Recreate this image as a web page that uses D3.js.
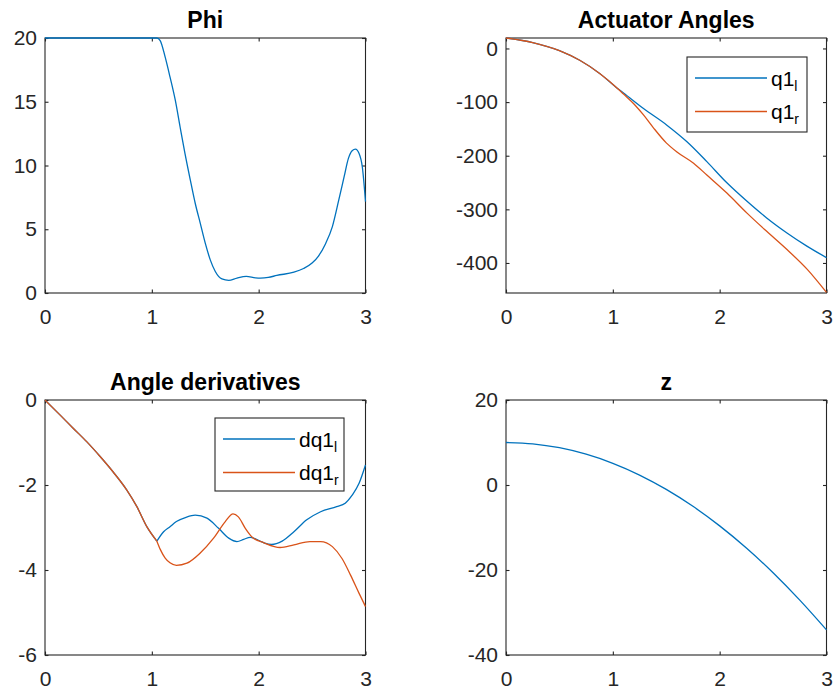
<!DOCTYPE html>
<html>
<head>
<meta charset="utf-8">
<script src="https://cdn.jsdelivr.net/npm/d3@7"></script>
<style>
  html, body { margin: 0; padding: 0; background: #ffffff; }
  svg { display: block; }
  text { font-family: "Liberation Sans", Arial, Helvetica, sans-serif; }
</style>
</head>
<body>
<svg id="fig" width="833" height="691"></svg>
<script>
// ---------------- DATA ----------------
const xTicks = [0, 1, 2, 3];

// Phi
const tPhi = [0, 1.047, 1.078, 1.125, 1.17, 1.22, 1.265, 1.31, 1.36, 1.406, 1.453, 1.5, 1.547, 1.594, 1.656, 1.72, 1.797, 1.884, 1.97, 2.016, 2.09, 2.17, 2.33, 2.42, 2.5, 2.56, 2.625, 2.69, 2.75, 2.8, 2.84, 2.875, 2.906, 2.94, 2.97, 3.0];
const phi  = [20, 20, 19.8, 18.5, 16.95, 15.1, 13.0, 10.95, 8.87, 7.04, 5.48, 3.91, 2.6, 1.69, 1.1, 0.99, 1.17, 1.3, 1.19, 1.17, 1.22, 1.38, 1.63, 1.92, 2.35, 2.9, 3.85, 5.21, 7.3, 9.12, 10.56, 11.16, 11.29, 10.95, 9.9, 7.17];
const phiTicks = [0, 5, 10, 15, 20];

// Actuator angles
const tQ1l = [0, 0.25, 0.5, 0.69, 0.88, 1.047, 1.1, 1.287, 1.506, 1.694, 1.88, 2.07, 2.256, 2.44, 2.63, 2.82, 3.0];
const q1l  = [19.5, 11, -4, -22, -47, -75, -83, -112, -143, -174, -211, -251, -285, -316, -344, -369, -390];
const tQ1r = [0, 0.25, 0.5, 0.69, 0.88, 1.047, 1.1, 1.2, 1.287, 1.38, 1.5, 1.6, 1.756, 1.88, 2.07, 2.256, 2.44, 2.63, 2.82, 3.0];
const q1r  = [19.5, 11, -4, -22, -47, -75, -85, -104, -124, -148, -176, -193, -214, -236, -270, -307, -341, -375, -412, -455];
const qTicks = [-400, -300, -200, -100, 0];

// Angle derivatives (both series share the first branch up to the kink)
const kinkT = 1.047;
const tDq1l = [0, 0.14, 0.266, 0.39, 0.516, 0.64, 0.766, 0.86, 0.953, 1.047, 1.11, 1.17, 1.23, 1.32, 1.406, 1.516, 1.625, 1.72, 1.797, 1.86, 1.92, 1.98, 2.05, 2.12, 2.22, 2.33, 2.45, 2.58, 2.73, 2.81, 2.875, 2.94, 3.0];
const dq1l  = [0, -0.35, -0.67, -0.98, -1.33, -1.7, -2.12, -2.51, -2.98, -3.32, -3.1, -2.98, -2.86, -2.76, -2.71, -2.78, -3.02, -3.25, -3.33, -3.28, -3.23, -3.28, -3.36, -3.4, -3.32, -3.1, -2.82, -2.63, -2.51, -2.43, -2.24, -1.96, -1.53];
const tDq1r = [0, 0.14, 0.266, 0.39, 0.516, 0.64, 0.766, 0.86, 0.953, 1.047, 1.08, 1.125, 1.17, 1.23, 1.328, 1.453, 1.578, 1.6875, 1.76, 1.81, 1.875, 1.94, 2.05, 2.2, 2.33, 2.48, 2.58, 2.69, 2.78, 2.86, 2.94, 3.0];
const dq1r  = [0, -0.35, -0.67, -0.98, -1.33, -1.7, -2.12, -2.51, -2.98, -3.32, -3.52, -3.72, -3.83, -3.89, -3.84, -3.6, -3.25, -2.86, -2.68, -2.75, -3.02, -3.23, -3.36, -3.47, -3.41, -3.33, -3.33, -3.45, -3.73, -4.12, -4.55, -4.86];
const dqTicks = [-6, -4, -2, 0];

// z
const tZ = [0, 0.25, 0.5, 0.75, 1.0, 1.25, 1.5, 1.75, 2.0, 2.25, 2.5, 2.75, 3.0];
const zVals = [10, 9.69, 8.77, 7.24, 5.1, 2.34, -1.04, -5.02, -9.62, -14.83, -20.66, -27.1, -34.1];
const zTicks = [-40, -20, 0, 20];

// ---------------- STYLE ----------------
const BLUE = "#0072BD", ORANGE = "#D95319", AX = "#262626";
const FONT = 21, TITLE_FONT = 23;
const FAMILY = '"Liberation Sans", Arial, Helvetica, sans-serif';

const svg = d3.select("#fig");

function panel(opt) {
  const g = svg.append("g");
  const x = d3.scaleLinear().domain([0, 3]).range([opt.x0, opt.x1]);
  const y = d3.scaleLinear().domain(opt.yDomain).range([opt.y1, opt.y0]);
  const tl = 3.5;
  const fmt = d => String(d);

  g.append("rect").attr("x", opt.x0).attr("y", opt.y0)
    .attr("width", opt.x1 - opt.x0).attr("height", opt.y1 - opt.y0)
    .attr("fill", "none").attr("stroke", AX).attr("stroke-width", 1.1);

  const bx = g.append("g").attr("transform", `translate(0,${opt.y1})`)
    .call(d3.axisBottom(x).tickValues(xTicks).tickSizeInner(-tl).tickSizeOuter(0).tickPadding(16).tickFormat(fmt));
  const tx = g.append("g").attr("transform", `translate(0,${opt.y0})`)
    .call(d3.axisTop(x).tickValues(xTicks).tickSizeInner(-tl).tickSizeOuter(0).tickFormat(""));
  const ly = g.append("g").attr("transform", `translate(${opt.x0},0)`)
    .call(d3.axisLeft(y).tickValues(opt.yTicks).tickSizeInner(-tl).tickSizeOuter(0).tickPadding(8).tickFormat(fmt));
  const ry = g.append("g").attr("transform", `translate(${opt.x1},0)`)
    .call(d3.axisRight(y).tickValues(opt.yTicks).tickSizeInner(-tl).tickSizeOuter(0).tickFormat(""));

  [bx, tx, ly, ry].forEach(a => {
    a.attr("font-size", null).attr("font-family", null);
    a.select(".domain").remove();
    a.selectAll("line").attr("stroke", AX).attr("stroke-width", 1.1);
    a.selectAll("text").attr("fill", AX).style("font-size", FONT + "px").style("font-family", FAMILY);
  });

  g.append("text").attr("x", (opt.x0 + opt.x1) / 2).attr("y", opt.y0 - 10)
    .attr("text-anchor", "middle").attr("font-weight", "bold")
    .style("font-size", TITLE_FONT + "px").style("font-family", FAMILY).attr("fill", "#000").text(opt.title);

  return { g, x, y };
}

function drawLine(p, ts, vs, color, i0, i1) {
  const pts = ts.map((t, i) => [t, vs[i]]).slice(i0 === undefined ? 0 : i0, i1 === undefined ? ts.length : i1 + 1);
  const line = d3.line().x(d => p.x(d[0])).y(d => p.y(d[1])).curve(d3.curveMonotoneX);
  p.g.append("path").attr("d", line(pts)).attr("fill", "none")
    .attr("stroke", color).attr("stroke-width", 1.3).attr("stroke-linejoin", "round");
}

function legend(p, bx, by, bw, bh, items) {
  const lg = p.g.append("g");
  lg.append("rect").attr("x", bx).attr("y", by).attr("width", bw).attr("height", bh)
    .attr("fill", "#fff").attr("stroke", AX).attr("stroke-width", 1.1);
  items.forEach((it, i) => {
    const ly = by + 21 + i * 33.5;
    lg.append("line").attr("x1", bx + 8).attr("x2", bx + 80).attr("y1", ly).attr("y2", ly)
      .attr("stroke", it.color).attr("stroke-width", 1.3);
    const t = lg.append("text").attr("x", bx + 84).attr("y", ly + 7.5)
      .style("font-size", FONT + "px").style("font-family", FAMILY).attr("fill", "#000");
    t.append("tspan").text(it.base);
    t.append("tspan").attr("dy", 5).style("font-size", "14px").text(it.sub);
  });
}

// ---------------- PANELS ----------------
const p1 = panel({ x0: 45, x1: 365.5, y0: 38, y1: 293, yDomain: [0, 20], yTicks: phiTicks, title: "Phi" });
drawLine(p1, tPhi, phi, BLUE);

const p2 = panel({ x0: 506, x1: 826.5, y0: 38, y1: 293, yDomain: [-456, 19.5], yTicks: qTicks, title: "Actuator Angles" });
drawLine(p2, tQ1l, q1l, BLUE);
drawLine(p2, tQ1r, q1r, ORANGE);
legend(p2, 687, 57, 120, 75, [
  { color: BLUE, base: "q1", sub: "l" },
  { color: ORANGE, base: "q1", sub: "r" }
]);

const p3 = panel({ x0: 45, x1: 365.5, y0: 400, y1: 655, yDomain: [-6, 0], yTicks: dqTicks, title: "Angle derivatives" });
const kl = tDq1l.indexOf(kinkT), kr = tDq1r.indexOf(kinkT);
drawLine(p3, tDq1l, dq1l, BLUE, 0, kl);
drawLine(p3, tDq1l, dq1l, BLUE, kl);
drawLine(p3, tDq1r, dq1r, ORANGE, 0, kr);
drawLine(p3, tDq1r, dq1r, ORANGE, kr);
legend(p3, 215, 418, 129, 73, [
  { color: BLUE, base: "dq1", sub: "l" },
  { color: ORANGE, base: "dq1", sub: "r" }
]);

const p4 = panel({ x0: 506, x1: 826.5, y0: 400, y1: 655, yDomain: [-40, 20], yTicks: zTicks, title: "z" });
drawLine(p4, tZ, zVals, BLUE);
</script>
</body>
</html>
